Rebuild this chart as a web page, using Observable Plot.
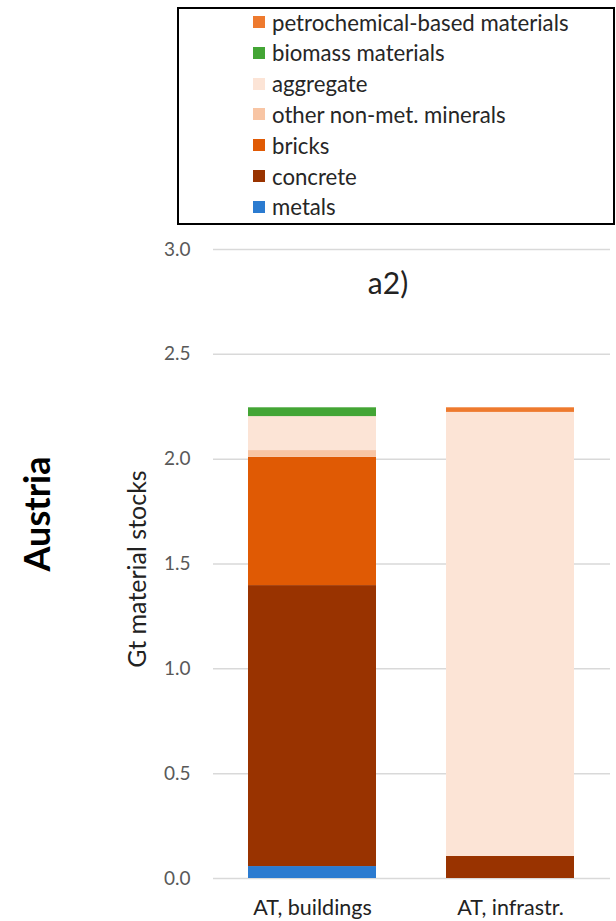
<!DOCTYPE html>
<html>
<head>
<meta charset="utf-8">
<script src="https://cdn.jsdelivr.net/npm/d3@7"></script>
<script src="https://cdn.jsdelivr.net/npm/@observablehq/plot@0.6"></script>
<style>
  body { margin: 0; background: #fff; font-family: Lato, "Liberation Sans", sans-serif; }
  #wrap { position: relative; width: 616px; height: 921px; overflow: hidden; background: #fff; }
  #legend { position: absolute; left: 177px; top: 7px; width: 434px; height: 214px; border: 2px solid #000; background: #fff; }
  .item { position: absolute; left: 74px; height: 20px; display: flex; align-items: center; font-size: 22.2px; color: #262626; white-space: nowrap; }
  .sw { width: 12px; height: 12px; margin-right: 7px; flex: none; }
  #chart { position: absolute; left: 0; top: 230px; }
</style>
</head>
<body>
<div id="wrap">
  <div id="legend"></div>
  <div id="chart"></div>
</div>
<script>
const categories = ["AT, buildings", "AT, infrastr."];
const materials = ["metals", "concrete", "bricks", "other non-met. minerals", "aggregate", "biomass materials", "petrochemical-based materials"];
const colors = ["#2b7bd0", "#993300", "#e05a04", "#f8c5a4", "#fce4d6", "#43a535", "#ee7a2e"];
const buildingsValues = [0.057, 1.34, 0.612, 0.032, 0.162, 0.042, 0];
const infrastrValues = [0, 0.105, 0, 0, 2.118, 0, 0.022];
const yTicks = [0, 0.5, 1.0, 1.5, 2.0, 2.5, 3.0];
const panelTitle = ["a2)"];
const rowLabel = ["Austria"];
const yLabel = ["Gt material stocks"];

// legend (top item = last material)
const legend = document.getElementById("legend");
materials.slice().reverse().forEach((m, i) => {
  const idx = materials.indexOf(m);
  const item = document.createElement("div");
  item.className = "item";
  item.style.top = (3 + i * 30.8) + "px";
  const sw = document.createElement("span");
  sw.className = "sw";
  sw.style.background = colors[idx];
  const tx = document.createElement("span");
  tx.textContent = m;
  item.appendChild(sw);
  item.appendChild(tx);
  legend.appendChild(item);
});

const data = materials.flatMap((m, i) => [
  {cat: categories[0], material: m, value: buildingsValues[i]},
  {cat: categories[1], material: m, value: infrastrValues[i]}
]);

const chart = Plot.plot({
  width: 616,
  height: 691,
  marginLeft: 213,
  marginRight: 6,
  marginTop: 19,
  marginBottom: 43,
  style: {fontFamily: "Lato, 'Liberation Sans', sans-serif", background: "#fff"},
  x: {domain: categories, paddingInner: 0.353, paddingOuter: 0.1765, label: null},
  y: {domain: [0, 3], label: null},
  color: {domain: materials, range: colors},
  marks: [
    Plot.gridY(yTicks, {stroke: "#d9d9d9", strokeOpacity: 1, strokeWidth: 1.5}),
    Plot.barY(data, {x: "cat", y: "value", fill: "material"}),
    Plot.axisY(yTicks, {tickSize: 0, tickPadding: 23, tickFormat: d3.format(".1f"), fontSize: 19, color: "#595959", label: null}),
    Plot.axisX({tickSize: 0, tickPadding: 21, fontSize: 21.5, color: "#222", label: null}),
    Plot.text(panelTitle, {frameAnchor: "top", dx: -24, dy: 23, fontSize: 30, fill: "#222", text: d => d}),
    Plot.text(yLabel, {frameAnchor: "left", textAnchor: "middle", dx: -76, dy: 5, rotate: -90, fontSize: 25, fill: "#222", text: d => d}),
    Plot.text(rowLabel, {frameAnchor: "left", textAnchor: "middle", dx: -175, dy: -50, rotate: -90, fontSize: 36, fontWeight: "bold", fill: "#000", text: d => d})
  ]
});
document.getElementById("chart").appendChild(chart);
</script>
</body>
</html>
